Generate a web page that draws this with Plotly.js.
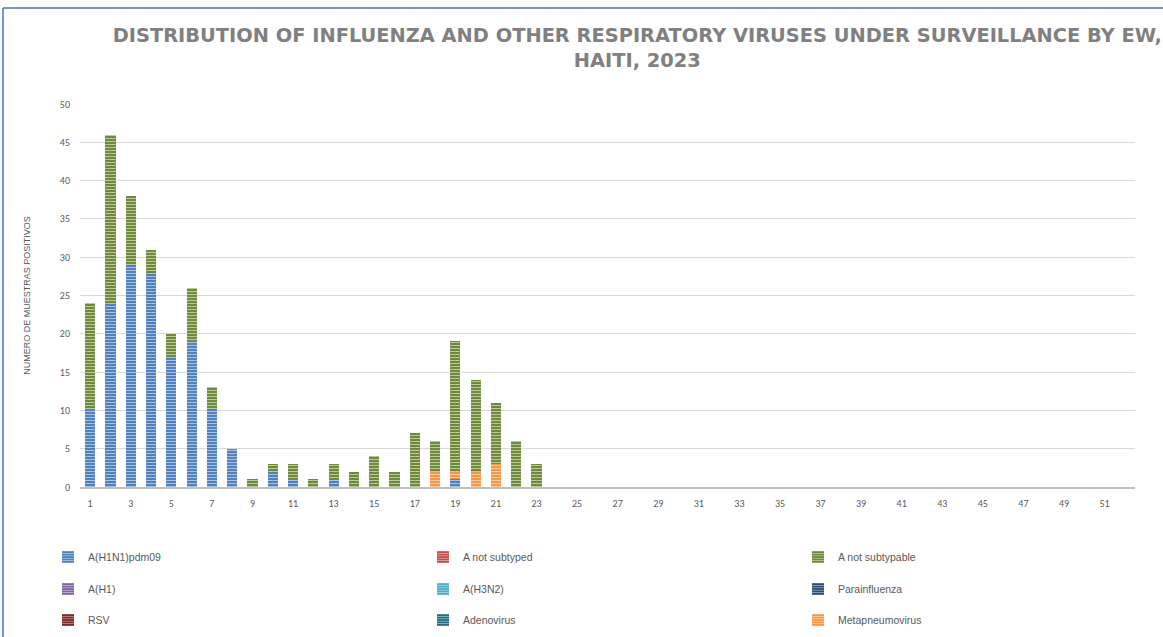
<!DOCTYPE html>
<html>
<head>
<meta charset="utf-8">
<script src="https://cdn.plot.ly/plotly-3.0.1.min.js"></script>
<style>
  html, body { margin: 0; padding: 0; background: #fff; }
  #chart { width: 1163px; height: 637px; }
</style>
</head>
<body>
<div id="chart"></div>
<script>
// Epidemiological weeks 1..52
const weeks = Array.from({length: 52}, (_, i) => i + 1);

// Series values (weeks 1..23; remaining weeks are zero)
const h1n1pdm09      = [10,24,29,28,17,19,10,5,0,2,1,0,1,0,0,0,0,0,1,0,0,0,0];
const aNotSubtyped   = [];
const aNotSubtypable = [14,22,9,3,3,7,3,0,1,1,2,1,2,2,4,2,7,4,17,12,8,6,3];
const aH1            = [];
const aH3N2          = [];
const parainfluenza  = [];
const rsv            = [];
const adenovirus     = [];
const metapneumovirus= [0,0,0,0,0,0,0,0,0,0,0,0,0,0,0,0,0,2,1,2,3,0,0];

const seriesNames = ["A(H1N1)pdm09","A not subtyped","A not subtypable","A(H1)","A(H3N2)","Parainfluenza","RSV","Adenovirus","Metapneumovirus"];
const tickWeeks = weeks.filter(w => w % 2 === 1);

function full(arr) { return weeks.map((w, i) => (i < arr.length ? arr[i] : 0)); }

// stacking order: bottom first
const defs = [
  {name: seriesNames[0], y: h1n1pdm09,       legend: "legend",  rank: 1, bg: "#4F81BD", fg: "#A9C1E2"},
  {name: seriesNames[1], y: aNotSubtyped,    legend: "legend",  rank: 2, bg: "#C0504D", fg: "#E3A8A6"},
  {name: seriesNames[3], y: aH1,             legend: "legend2", rank: 1, bg: "#8064A2", fg: "#BFB1D0"},
  {name: seriesNames[4], y: aH3N2,           legend: "legend2", rank: 2, bg: "#4BACC6", fg: "#A5D5E2"},
  {name: seriesNames[5], y: parainfluenza,   legend: "legend2", rank: 3, bg: "#2C4D75", fg: "#8EA3BE"},
  {name: seriesNames[6], y: rsv,             legend: "legend3", rank: 1, bg: "#772C2A", fg: "#C08886"},
  {name: seriesNames[7], y: adenovirus,      legend: "legend3", rank: 2, bg: "#276A7C", fg: "#8BBCC9"},
  {name: seriesNames[8], y: metapneumovirus, legend: "legend3", rank: 3, bg: "#F79646", fg: "#FCCBA2"},
  {name: seriesNames[2], y: aNotSubtypable,  legend: "legend",  rank: 3, bg: "#6F8A3B", fg: "#B9C99B"}
];

const traces = defs.map(d => ({
  type: "bar",
  name: d.name,
  x: weeks,
  y: full(d.y),
  legend: d.legend,
  legendrank: d.rank,
  marker: {
    color: d.bg,
    line: {width: 0},
    pattern: {shape: "-", size: 3, solidity: 0.34, fgcolor: d.fg, bgcolor: d.bg, fillmode: "replace"}
  },
  hoverinfo: "x+y+name"
}));

const ML = 80, MR = 28, MT = 104, MB = 150;
const PW = 1163 - ML - MR, PH = 637 - MT - MB;
const px = v => (v - ML) / PW;
const py = v => (637 - MB - v) / PH;

const legendBase = {
  orientation: "h",
  xanchor: "left",
  yanchor: "middle",
  entrywidth: 330,
  entrywidthmode: "pixels",
  font: {family: "Liberation Sans Narrow, Liberation Sans, Arial", size: 10.5, color: "#595959"},
  bgcolor: "rgba(0,0,0,0)",
  traceorder: "normal",
  itemwidth: 30
};

const layout = {
  width: 1163,
  height: 637,
  margin: {l: ML, r: MR, t: MT, b: MB, pad: 0, autoexpand: false},
  paper_bgcolor: "#ffffff",
  plot_bgcolor: "#ffffff",
  barmode: "stack",
  bargap: 0.5,
  title: {
    text: "DISTRIBUTION OF INFLUENZA AND OTHER RESPIRATORY VIRUSES UNDER SURVEILLANCE BY EW,<br>HAITI, 2023",
    font: {family: "DejaVu Sans", size: 19.4, color: "#808080", weight: 700},
    xref: "container", yref: "container",
    x: 0.548, xanchor: "center",
    y: 1 - 42 / 637, yanchor: "middle"
  },
  xaxis: {
    range: [0.5, 52.5],
    tickmode: "array",
    tickvals: tickWeeks,
    ticktext: tickWeeks.map(String),
    ticks: "",
    showgrid: false,
    showline: true,
    linecolor: "#BFBFBF",
    linewidth: 2,
    tickfont: {family: "Calibri, Carlito, Liberation Sans", size: 10, color: "#595959"},
    ticklabelstandoff: 6,
    zeroline: false,
    fixedrange: true
  },
  yaxis: {
    range: [0, 50],
    tickmode: "linear",
    tick0: 0,
    dtick: 5,
    ticks: "",
    showgrid: true,
    gridcolor: "#D9D9D9",
    gridwidth: 1,
    zeroline: false,
    showline: false,
    tickfont: {family: "Calibri, Carlito, Liberation Sans", size: 10, color: "#595959"},
    ticklabelstandoff: 9,
    title: {
      text: "NUMERO DE MUESTRAS POSITIVOS",
      font: {family: "Liberation Sans Narrow, Liberation Sans", size: 9, color: "#595959"},
      standoff: 27
    },
    fixedrange: true
  },
  showlegend: true,
  legend:  Object.assign({}, legendBase, {x: px(48), y: py(557)}),
  legend2: Object.assign({}, legendBase, {x: px(48), y: py(589)}),
  legend3: Object.assign({}, legendBase, {x: px(48), y: py(620)}),
  shapes: [
    {type: "line", xref: "paper", yref: "paper", x0: px(3), x1: px(1163), y0: py(8), y1: py(8), line: {color: "#4472C4", width: 1.5}},
    {type: "line", xref: "paper", yref: "paper", x0: px(3), x1: px(3), y0: py(8), y1: py(637), line: {color: "#4472C4", width: 1.5}}
  ]
};

Plotly.newPlot("chart", traces, layout, {displayModeBar: false, responsive: false});
</script>
</body>
</html>
